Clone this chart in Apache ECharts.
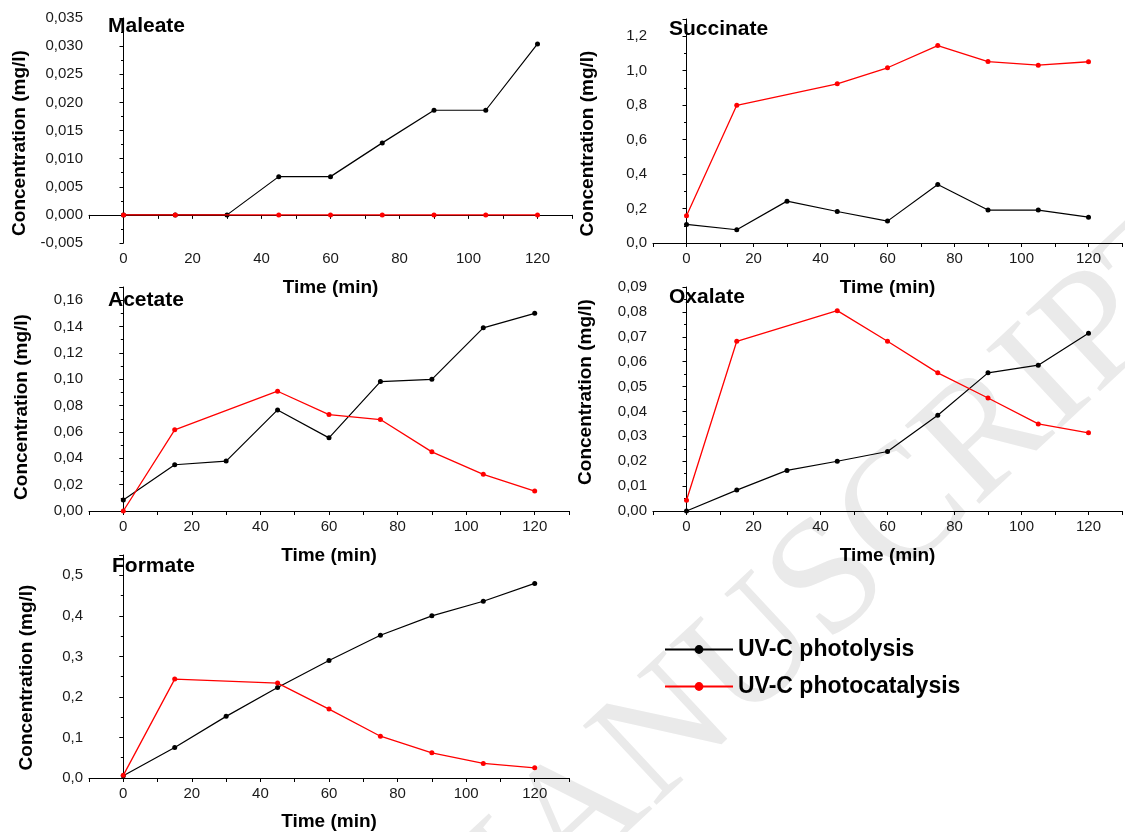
<!DOCTYPE html>
<html>
<head>
<meta charset="utf-8">
<script src="https://cdn.jsdelivr.net/npm/echarts@6/dist/echarts.min.js"></script>
<style>
html,body{margin:0;padding:0;background:#fff;}
#chart{width:1125px;height:832px;}
</style>
</head>
<body>
<div id="chart"></div>
<script>
// ---- data ----
var times = [0, 15, 30, 45, 60, 75, 90, 105, 120];
var xTickLabels = [0, 20, 40, 60, 80, 100, 120];
var seriesNames = ['UV-C photolysis', 'UV-C photocatalysis'];
var panelTitles = ['Maleate', 'Succinate', 'Acetate', 'Oxalate', 'Formate'];

// photolysis (black); photocatalysis (red, no sample at 30 min -> null)
var maleatePhotolysis     = [0, 0, 0, 0.0068, 0.0068, 0.0128, 0.0186, 0.0186, 0.0304];
var maleatePhotocatalysis = [0, 0, null, 0, 0, 0, 0, 0, 0];
var succinatePhotolysis     = [0.108, 0.077, 0.243, 0.183, 0.127, 0.340, 0.191, 0.191, 0.150];
var succinatePhotocatalysis = [0.158, 0.799, null, 0.924, 1.017, 1.146, 1.053, 1.032, 1.052];
var acetatePhotolysis     = [0.0083, 0.0351, 0.0379, 0.0767, 0.0555, 0.0982, 0.0999, 0.1390, 0.1500];
var acetatePhotocatalysis = [0.0000, 0.0616, null, 0.0909, 0.0732, 0.0694, 0.0449, 0.0278, 0.0151];
var oxalatePhotolysis     = [0.0000, 0.0084, 0.0163, 0.0200, 0.0239, 0.0385, 0.0555, 0.0586, 0.0714];
var oxalatePhotocatalysis = [0.0043, 0.0682, null, 0.0805, 0.0682, 0.0555, 0.0454, 0.0350, 0.0314];
var formatePhotolysis     = [0.0057, 0.075, 0.152, 0.223, 0.290, 0.352, 0.400, 0.436, 0.480];
var formatePhotocatalysis = [0.0065, 0.244, null, 0.234, 0.170, 0.103, 0.062, 0.036, 0.025];

// y axis scales: [min, max, label step, decimals]
var yMins = [-0.005, 0, 0, 0, 0];
var yMaxs = [0.035, 1.3, 0.17, 0.09, 0.55];
var ySteps = [0.005, 0.2, 0.02, 0.01, 0.1];
var yDecimals = [3, 1, 2, 2, 1];

var photolysisData = [maleatePhotolysis, succinatePhotolysis, acetatePhotolysis, oxalatePhotolysis, formatePhotolysis];
var photocatalysisData = [maleatePhotocatalysis, succinatePhotocatalysis, acetatePhotocatalysis, oxalatePhotocatalysis, formatePhotocatalysis];

// ---- layout ----
var FONT = '"Liberation Sans", Arial, sans-serif';
var grids = [
  {left: 89,  top: 18,  width: 483, height: 225},
  {left: 653, top: 19,  width: 479, height: 224},
  {left: 89,  top: 287, width: 480, height: 224},
  {left: 653, top: 287, width: 479, height: 224},
  {left: 89,  top: 555, width: 480, height: 225}
];
var titlePos = [[108, 16], [669, 19], [108, 290], [669, 287], [112, 556]];
var yNameGap = [60, 56, 58, 58, 53];
var yNamePad = [[0, 25, 0, 0], [0, 25, 0, 0], [0, 16, 0, 0], [0, 0, 0, 14], [0, 22, 0, 0]];

function pairs(arr) {
  return times.map(function (t, i) { return [t, arr[i]]; });
}

var xAxes = [], yAxes = [], series = [], titles = [];
for (var p = 0; p < 5; p++) {
  xAxes.push({
    type: 'value', gridIndex: p, min: -10, max: 130, interval: 10,
    name: 'Time (min)', nameLocation: 'middle', nameGap: p === 4 ? 34 : 35,
    nameTextStyle: {fontFamily: FONT, fontSize: 19, fontWeight: 'bold', color: '#000'},
    axisLine: {lineStyle: {color: '#000', width: 1}},
    axisTick: {show: true, length: 4, lineStyle: {color: '#000'}},
    splitLine: {show: false},
    axisLabel: {
      fontFamily: FONT, fontSize: 15, color: '#1a1a1a', margin: 8,
      showMinLabel: true, showMaxLabel: true,
      formatter: function (v) {
        return (xTickLabels.indexOf(Math.round(v)) >= 0 && Math.abs(v - Math.round(v)) < 1e-6) ? String(Math.round(v)) : '';
      }
    }
  });
  (function (p) {
    yAxes.push({
      type: 'value', gridIndex: p, min: yMins[p], max: yMaxs[p], interval: ySteps[p],
      name: 'Concentration (mg/l)', nameLocation: 'middle', nameGap: yNameGap[p],
      nameTextStyle: {fontFamily: FONT, fontSize: 19, fontWeight: 'bold', color: '#000', padding: yNamePad[p]},
      axisLine: {show: true, lineStyle: {color: '#000', width: 1}},
      axisTick: {show: true, length: 4, lineStyle: {color: '#000'}},
      minorTick: {show: true, splitNumber: 2, length: 2.5, lineStyle: {color: '#000'}},
      splitLine: {show: false},
      axisLabel: {
        fontFamily: FONT, fontSize: 15, color: '#1a1a1a', margin: 6,
        formatter: function (v) {
          var k = v / ySteps[p];
          if (Math.abs(k - Math.round(k)) > 1e-6) return '';
          return v.toFixed(yDecimals[p]).replace('.', ',');
        }
      }
    });
  })(p);
  titles.push({
    text: panelTitles[p], left: titlePos[p][0], top: titlePos[p][1], padding: 0,
    textStyle: {fontFamily: FONT, fontSize: 21, fontWeight: 'bold', color: '#000'}
  });
  series.push({
    name: seriesNames[0], type: 'line', xAxisIndex: p, yAxisIndex: p,
    data: pairs(photolysisData[p]), symbol: 'circle', symbolSize: 5,
    itemStyle: {color: '#000'}, lineStyle: {color: '#000', width: 1.2},
    connectNulls: true, z: 3
  });
  series.push({
    name: seriesNames[1], type: 'line', xAxisIndex: p, yAxisIndex: p,
    data: pairs(photocatalysisData[p]), symbol: 'circle', symbolSize: 5,
    itemStyle: {color: '#ff0000'}, lineStyle: {color: '#ff0000', width: 1.3},
    connectNulls: true, z: 4
  });
}

var chart = echarts.init(document.getElementById('chart'), null, {renderer: 'canvas'});
chart.setOption({
  backgroundColor: '#fff',
  animation: false,
  title: titles,
  grid: grids,
  xAxis: xAxes,
  yAxis: yAxes,
  legend: {
    data: seriesNames, orient: 'vertical', left: 664, top: 638, padding: 0,
    itemWidth: 68, itemHeight: 11, itemGap: 14,
    textStyle: {fontFamily: FONT, fontSize: 23, fontWeight: 'bold', color: '#000'},
    selectedMode: false
  },
  graphic: [{
    type: 'text', x: 818, y: 595, rotation: 43 * Math.PI / 180, z: -1, silent: true,
    style: {text: 'MANUSCRIPT', font: '165px "Liberation Serif", serif', fill: '#eaeaea', align: 'center', verticalAlign: 'middle'}
  }],
  series: series
});
</script>
</body>
</html>
